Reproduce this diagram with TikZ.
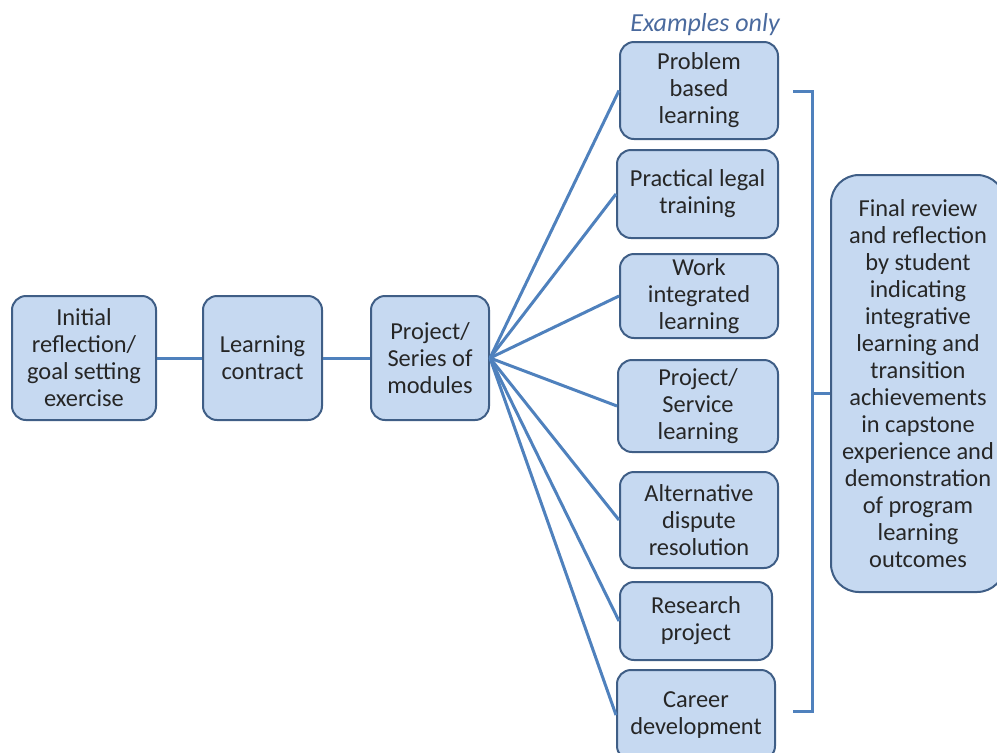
\documentclass[tikz,border=0pt]{standalone}
\usepackage{fontspec}
\setmainfont{Carlito}
\definecolor{boxfill}{HTML}{C6D9F1}
\definecolor{boxline}{HTML}{3F5E86}
\definecolor{linkblue}{HTML}{4F81BD}
\definecolor{notecol}{HTML}{4A6A9E}
\begin{document}
\begin{tikzpicture}[x=0.5pt,y=-0.5pt,
    stage/.style={draw=boxline, line width=1pt, fill=boxfill, rounded corners=7pt,
      align=center, inner sep=0pt, text=black!85, font=\fontsize{12.2}{13.5}\selectfont},
    link/.style={linkblue, line width=1.5pt}]
    \useasboundingbox (0,0) rectangle (997,752);

    % Main sequence
    \node[stage, minimum width=72pt, minimum height=62pt] (init) at (84,358)
      {Initial\\reflection/\\goal setting\\exercise};
    \node[stage, minimum width=59.5pt, minimum height=62pt] (contract) at (262.5,358)
      {Learning\\contract};
    \node[stage, minimum width=59pt, minimum height=62pt] (modules) at (430,358)
      {Project/\\Series of\\modules};

    % Example activities
    \node[notecol, font=\fontsize{13}{16}\selectfont\itshape] (note) at (705,25) {Examples only};
    \node[stage, minimum width=79pt, minimum height=48.5pt] (pbl) at (699,90.5)
      {Problem\\based\\learning};
    \node[stage, minimum width=80.5pt, minimum height=44pt] (plt) at (697.5,194)
      {Practical legal\\training};
    \node[stage, minimum width=79pt, minimum height=42pt] (wil) at (699,296)
      {Work\\integrated\\learning};
    \node[stage, minimum width=80pt, minimum height=46pt] (psl) at (698,406)
      {Project/\\Service\\learning};
    \node[stage, minimum width=79pt, minimum height=48pt] (adr) at (699,520)
      {Alternative\\dispute\\resolution};
    \node[stage, minimum width=76pt, minimum height=39pt] (rp) at (696,621)
      {Research\\project};
    \node[stage, minimum width=79pt, minimum height=45pt] (cd) at (696,715)
      {Career\\development};

    % Final review
    \node[stage, rounded corners=14pt, minimum width=87pt, minimum height=208.5pt] (final) at (918,383.5)
      {Final review\\and reflection\\by student\\indicating\\integrative\\learning and\\transition\\achievements\\in capstone\\experience and\\demonstration\\of program\\learning\\outcomes};

    % Connectors
    \draw[link] (init) -- (contract);
    \draw[link] (contract) -- (modules);
    \foreach \act in {pbl,plt,wil,psl,adr,rp,cd}
      \draw[link] (modules.east) -- (\act.west);

    % Bracket
    \coordinate (brtop) at (793,91);
    \coordinate (brbot) at (793,711);
    \coordinate (brmid) at (812,393);
    \draw[link] (brtop) -- (812,91) -- (812,711) -- (brbot);
    \draw[link] (brmid) -- (brmid -| final.west);
\end{tikzpicture}
\end{document}
